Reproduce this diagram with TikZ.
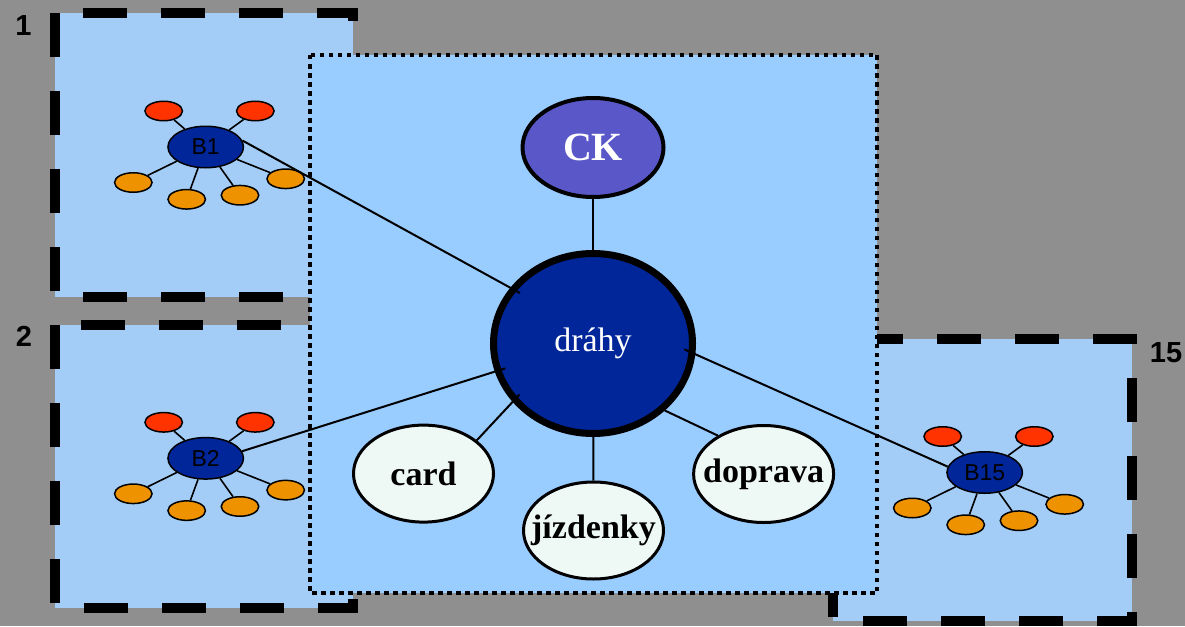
\documentclass[tikz,border=0pt]{standalone}
\usepackage{fontspec}
\setmainfont{Liberation Serif}
\newfontfamily\arialfont{Liberation Sans}
\usepackage{tikz}
\usetikzlibrary{shapes.geometric}
\definecolor{bggray}{HTML}{8F8F8F}
\definecolor{groupfill}{HTML}{A3CDF7}
\definecolor{corefill}{HTML}{99CCFF}
\definecolor{drahyblue}{HTML}{00269A}
\definecolor{ckpurple}{HTML}{5A58C8}
\definecolor{topicfill}{HTML}{EEF8F5}
\definecolor{satred}{HTML}{FF3300}
\definecolor{satorange}{HTML}{EE9200}
\tikzset{
  groupbox/.style={
    draw,
    fill=groupfill,
    line width=10pt,
    dash pattern=on 44pt off 34pt,
  },
  corebox/.style={
    draw,
    fill=corefill,
    line width=4.5pt,
    dash pattern=on 4.5pt off 4.5pt,
  },
  num/.style={font=\arialfont\bfseries\fontsize{29}{29}\selectfont},
  hub/.style={
    ellipse,
    draw,
    line width=1.5pt,
    fill=drahyblue,
    minimum width=75.5pt,
    minimum height=41.5pt,
    inner sep=0pt,
    font=\arialfont\fontsize{23}{23}\selectfont,
  },
  sat/.style={
    ellipse,
    draw,
    line width=1.5pt,
    minimum width=37.5pt,
    minimum height=19.5pt,
    inner sep=0pt,
  },
  redsat/.style={sat, fill=satred},
  orgsat/.style={sat, fill=satorange},
  ck/.style={
    ellipse,
    draw,
    line width=4pt,
    fill=ckpurple,
    text=white,
    minimum width=141pt,
    minimum height=99pt,
    inner sep=0pt,
    font=\bfseries\fontsize{40}{40}\selectfont,
  },
  core/.style={
    ellipse,
    draw,
    line width=7pt,
    fill=drahyblue,
    text=white,
    minimum width=199pt,
    minimum height=180pt,
    inner sep=0pt,
    font=\fontsize{34}{34}\selectfont,
  },
  topic/.style={
    ellipse,
    draw,
    line width=3pt,
    fill=topicfill,
    minimum width=140pt,
    minimum height=97pt,
    inner sep=0pt,
    font=\bfseries\fontsize{34}{34}\selectfont,
  },
  spoke/.style={line width=1.6pt},
  link/.style={line width=2pt},
}
\begin{document}
\begin{tikzpicture}[x=1pt,y=-1pt]
  \fill[bggray] (0,0) rectangle (1185,626);
  \useasboundingbox (0,0) rectangle (1185,626);

  \draw[groupbox] (55,13) rectangle (353,297);
  \draw[groupbox] (55,325) rectangle (353,608);
  \draw[groupbox] (833,339) rectangle (1132,621);
  \draw[corebox] (310,55) rectangle (877,593);

  \node[num] (n1) at (23.5,26) {1};
  \node[num] (n2) at (24,336) {2};
  \node[num] (n15) at (1166,352.5) {15};

  \foreach \nm/\x/\y in {B1/205.7/147, B2/205.7/458.3, B15/984.7/472.5} {
    \node[hub] (\nm) at (\x,\y) {\nm};
    \path (\nm) ++(-42,-36) node[redsat] (\nm-r1) {};
    \path (\nm) ++(49.6,-36) node[redsat] (\nm-r2) {};
    \path (\nm) ++(-72.4,35.5) node[orgsat] (\nm-o1) {};
    \path (\nm) ++(-19,52.3) node[orgsat] (\nm-o2) {};
    \path (\nm) ++(34.3,48.2) node[orgsat] (\nm-o3) {};
    \path (\nm) ++(80,31.8) node[orgsat] (\nm-o4) {};
    \foreach \s in {r1,r2,o1,o2,o3,o4}
      \draw[spoke] (\nm) -- (\nm-\s);
  }

  \node[ck] (ck) at (593,147.5) {CK};
  \node[core] (drahy) at (593,343.5) {dráhy};
  \node[topic] (card) at (423.5,473.6) {\makebox[0pt]{card}};
  \node[topic] (jizdenky) at (593.5,530.5) {\makebox[0pt]{jízdenky}};
  \node[topic] (doprava) at (763.6,474) {\makebox[0pt]{doprava}};

  \draw[link] (ck) -- (drahy);
  \draw[link] (drahy) -- (jizdenky);
  \draw[link, shorten >=-10pt] (card.32) -- (drahy.216);
  \draw[link] (doprava.140) -- (drahy.317);
  \draw[link, shorten >=-11pt] (B1.10) -- (drahy.146);
  \draw[link, shorten >=-11pt] (B2.11) -- (drahy.196);
  \draw[link, shorten <=-12pt] (drahy.354) -- (B15.171);
\end{tikzpicture}
\end{document}
